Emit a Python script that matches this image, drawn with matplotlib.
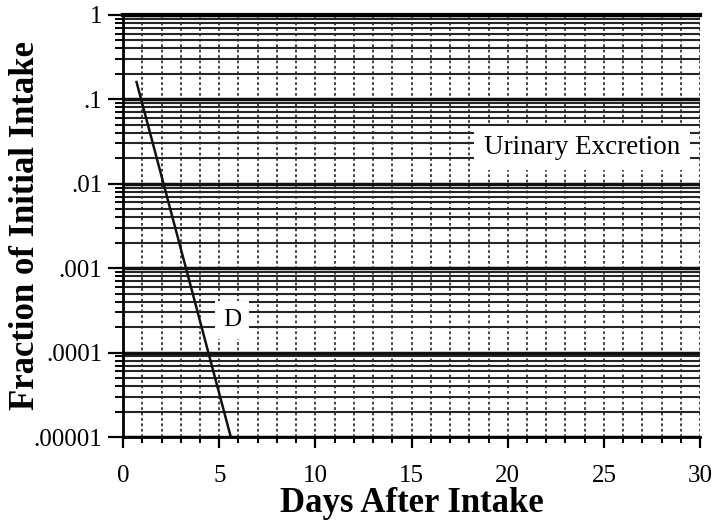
import matplotlib
matplotlib.use("Agg")
import matplotlib.pyplot as plt
import numpy as np
from matplotlib.ticker import FixedLocator, LogLocator, MultipleLocator, NullFormatter

plt.rcParams['font.family'] = ['Liberation Serif', 'DejaVu Serif']

# curve D: days after intake vs fraction of initial intake
days_d = [0.7, 5.6]
frac_d = [0.16, 1e-5]

x_ticks = [0, 5, 10, 15, 20, 25, 30]
y_ticks = [1, 0.1, 0.01, 0.001, 0.0001, 0.00001]
y_tick_labels = ['1', '.1', '.01', '.001', '.0001', '.00001']

fig = plt.figure(figsize=[7.24, 5.31], dpi=100)
ax = fig.add_axes([0.170, 0.177, 0.797, 0.795])

ax.set_yscale('log')
ax.set_xlim(0, 30)
ax.set_ylim(1e-5, 1)

# semi-log graph paper grid
ax.xaxis.set_major_locator(FixedLocator(x_ticks))
ax.xaxis.set_minor_locator(MultipleLocator(1))
ax.yaxis.set_major_locator(FixedLocator(y_ticks))
ax.yaxis.set_minor_locator(LogLocator(base=10, subs=np.arange(2, 10)))
ax.yaxis.set_minor_formatter(NullFormatter())
ax.set_yticklabels(y_tick_labels)

ax.grid(True, axis='y', which='major', color='#111111', lw=2.5, ls='-')
ax.grid(True, axis='y', which='minor', color='#262626', lw=1.5, ls='-')
ax.grid(True, axis='x', which='both', color='#333333', lw=1.3, ls=(0, (1.5, 1.5)))
ax.set_axisbelow(True)

ax.tick_params(axis='y', which='major', direction='out', length=11, width=1.6,
               pad=4, labelsize=18)
ax.tick_params(axis='y', which='minor', direction='out', length=6, width=1.4)
ax.tick_params(axis='x', which='major', direction='out', length=8, width=1.6,
               pad=12, labelsize=18)
ax.tick_params(axis='x', which='minor', direction='out', length=4.5, width=1.4)

ax.spines['right'].set_visible(False)
ax.spines['top'].set_linewidth(3)
ax.spines['left'].set_linewidth(2)
ax.spines['bottom'].set_linewidth(2)

# curve D
ax.plot(days_d, frac_d, color='#111111', lw=1.8, zorder=3)

ax.text(23.87, 0.0265, 'Urinary Excretion', fontsize=19.5, ha='center', va='center',
        bbox=dict(facecolor='white', edgecolor='none', pad=7), zorder=4)
ax.text(5.67, 2.43e-4, 'D', fontsize=18, ha='center', va='center',
        bbox=dict(facecolor='white', edgecolor='none', pad=6), zorder=4)

ax.set_xlabel('Days After Intake', fontsize=25, fontweight='bold')
ax.xaxis.set_label_coords(0.5, -0.118)
ax.set_ylabel('Fraction of Initial Intake', fontsize=25, fontweight='bold')
ax.yaxis.set_label_coords(-0.140, 0.5)

fig.savefig('out.png', dpi=100)
